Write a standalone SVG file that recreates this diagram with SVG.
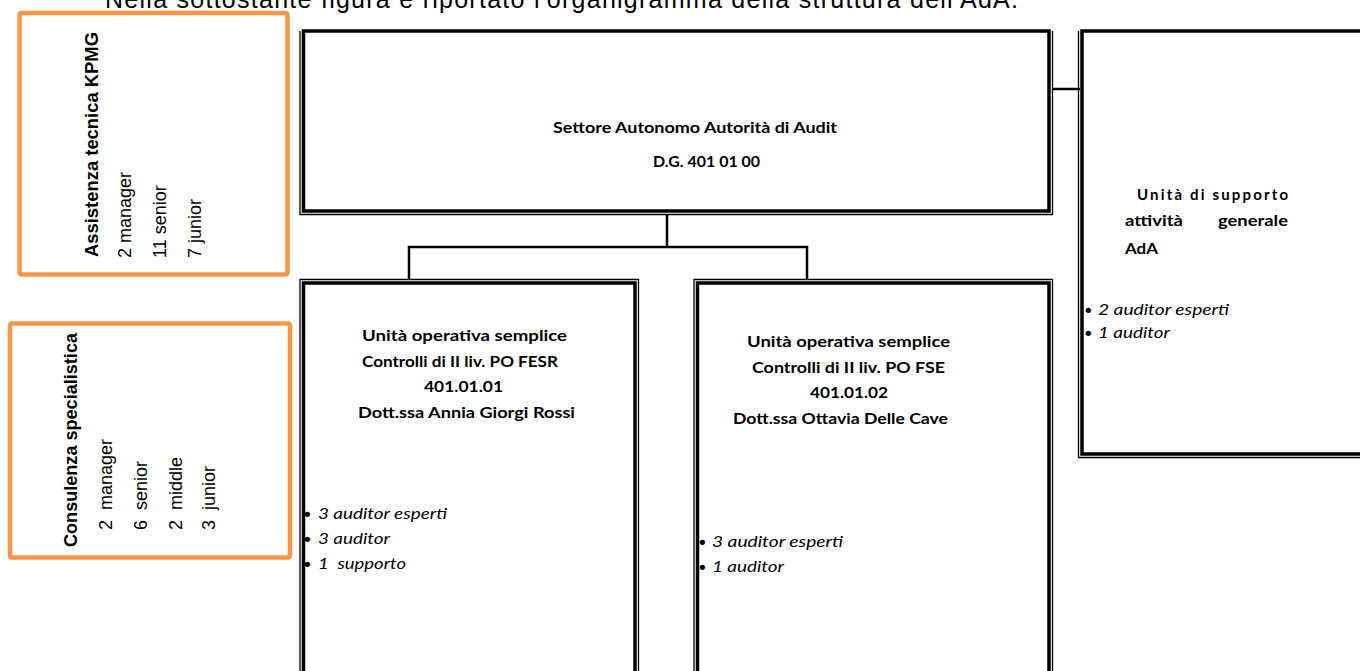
<svg xmlns="http://www.w3.org/2000/svg" width="1360" height="671" viewBox="0 0 1360 671">
<style>
.bg{fill:#fff}
.org{fill:none;stroke:#F79646;stroke-width:4.5}
.thick{fill:#fff;stroke:#000;stroke-width:3.5}
.thin{fill:none;stroke:#000;stroke-width:1.3}
.conn{fill:none;stroke:#000;stroke-width:2.5}
.ar{font-family:"Liberation Sans",Arial,sans-serif;font-size:18px;fill:#000;white-space:pre}
.arb{font-family:"Liberation Sans",Arial,sans-serif;font-size:18px;font-weight:bold;fill:#000}
.hd{font-family:"Liberation Sans",Arial,sans-serif;font-size:25px;fill:#000}
.b{font-family:Lato,"Open Sans",sans-serif;font-size:15px;font-weight:bold;fill:#000}
.i{font-family:Lato,"Open Sans",sans-serif;font-size:15px;font-style:italic;fill:#000;white-space:pre}
.dot{font-family:"Liberation Sans",Arial,sans-serif;font-size:19px;font-weight:bold;fill:#000}
</style>
<rect class="bg" x="0" y="0" width="1360" height="671"/>
<text class="hd" x="105" y="8" textLength="913" lengthAdjust="spacing">Nella sottostante figura è riportato l'organigramma della struttura dell'AdA.</text>

<g id="assistenza">
<rect class="org" x="19.5" y="13" width="268" height="261.5" rx="2"/>
<text class="arb" transform="translate(98,257) rotate(-90)" textLength="225" lengthAdjust="spacingAndGlyphs">Assistenza tecnica KPMG</text>
<text class="ar" transform="translate(131,258) rotate(-90)">2 manager</text>
<text class="ar" transform="translate(166,258) rotate(-90)">11 senior</text>
<text class="ar" transform="translate(201,258) rotate(-90)">7 junior</text>
</g>

<g id="consulenza">
<rect class="org" x="10" y="323.5" width="280" height="234" rx="2"/>
<text class="arb" transform="translate(77,547) rotate(-90)" textLength="214" lengthAdjust="spacingAndGlyphs">Consulenza specialistica</text>
<text class="ar" transform="translate(112,530) rotate(-90)">2  manager</text>
<text class="ar" transform="translate(147,530) rotate(-90)">6  senior</text>
<text class="ar" transform="translate(182,530) rotate(-90)">2  middle</text>
<text class="ar" transform="translate(215,530) rotate(-90)">3  junior</text>
</g>

<g id="connectors">
<line class="conn" x1="1052" y1="89" x2="1080" y2="89"/>
<line class="conn" x1="667" y1="215" x2="667" y2="247"/>
<polyline class="conn" points="409,280 409,247 807,247 807,280"/>
</g>

<g id="settore">
<rect class="thick" x="303.5" y="31" width="745.5" height="180"/>
<polyline class="thin" points="300,31 300,214.5 1052.5,214.5 1052.5,31"/>
<text class="b" x="553" y="133" textLength="284" lengthAdjust="spacingAndGlyphs">Settore Autonomo  Autorità di  Audit</text>
<text class="b" x="653" y="167" textLength="107" lengthAdjust="spacingAndGlyphs">D.G. 401 01 00</text>
</g>

<g id="supporto">
<rect class="thick" x="1082" y="31" width="300" height="423"/>
<polyline class="thin" points="1078.5,31 1078.5,457.5 1370,457.5"/>
<text class="b" x="1137" y="200" textLength="151" lengthAdjust="spacing">Unità di supporto</text>
<text class="b" x="1125" y="226" textLength="58" lengthAdjust="spacingAndGlyphs">attività</text>
<text class="b" x="1218" y="226" textLength="70" lengthAdjust="spacingAndGlyphs">generale</text>
<text class="b" x="1125" y="254" textLength="33" lengthAdjust="spacingAndGlyphs">AdA</text>
<text class="dot" x="1085" y="316">•</text>
<text class="i" x="1098" y="315" textLength="131" lengthAdjust="spacingAndGlyphs">2 auditor esperti</text>
<text class="dot" x="1085" y="339">•</text>
<text class="i" x="1098" y="338" textLength="72" lengthAdjust="spacingAndGlyphs">1 auditor</text>
</g>

<g id="fesr">
<rect class="thick" x="303.5" y="283" width="331.5" height="420"/>
<polyline class="thin" points="300,700 300,279.5 638.5,279.5 638.5,700"/>
<text class="b" x="362" y="341" textLength="205" lengthAdjust="spacingAndGlyphs">Unità operativa semplice</text>
<text class="b" x="362" y="367" textLength="196" lengthAdjust="spacingAndGlyphs">Controlli di II liv. PO FESR</text>
<text class="b" x="424" y="392" textLength="79" lengthAdjust="spacingAndGlyphs">401.01.01</text>
<text class="b" x="358" y="418" textLength="217" lengthAdjust="spacingAndGlyphs">Dott.ssa Annia Giorgi Rossi</text>
<text class="dot" x="304" y="520">•</text>
<text class="i" x="318" y="519" textLength="129" lengthAdjust="spacingAndGlyphs">3 auditor esperti</text>
<text class="dot" x="304" y="545">•</text>
<text class="i" x="318" y="544" textLength="72" lengthAdjust="spacingAndGlyphs">3 auditor</text>
<text class="dot" x="304" y="570">•</text>
<text class="i" x="318" y="569" textLength="88" lengthAdjust="spacingAndGlyphs">1  supporto</text>
</g>

<g id="fse">
<rect class="thick" x="697.5" y="283" width="351.5" height="420"/>
<polyline class="thin" points="694,700 694,279.5 1052.5,279.5 1052.5,700"/>
<text class="b" x="747" y="347" textLength="203" lengthAdjust="spacingAndGlyphs">Unità operativa semplice</text>
<text class="b" x="752" y="373" textLength="193" lengthAdjust="spacingAndGlyphs">Controlli di II liv. PO FSE</text>
<text class="b" x="810" y="398" textLength="78" lengthAdjust="spacingAndGlyphs">401.01.02</text>
<text class="b" x="733" y="424" textLength="215" lengthAdjust="spacingAndGlyphs">Dott.ssa Ottavia Delle Cave</text>
<text class="dot" x="699" y="548">•</text>
<text class="i" x="712" y="547" textLength="131" lengthAdjust="spacingAndGlyphs">3 auditor esperti</text>
<text class="dot" x="699" y="573">•</text>
<text class="i" x="712" y="572" textLength="72" lengthAdjust="spacingAndGlyphs">1 auditor</text>
</g>
</svg>
